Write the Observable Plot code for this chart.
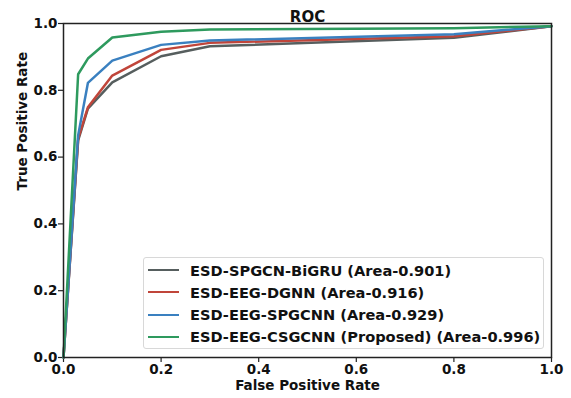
<!DOCTYPE html>
<html>
<head>
<meta charset="utf-8">
<script src="https://cdn.jsdelivr.net/npm/d3@7"></script>
<script src="https://cdn.jsdelivr.net/npm/@observablehq/plot@0.6"></script>
<style>
  html, body { margin: 0; padding: 0; background: #fff; }
  #wrap { position: relative; width: 571px; height: 398px; font-family: "DejaVu Sans", sans-serif; }
  #wrap svg text { font-weight: 700 !important; font-family: "DejaVu Sans", sans-serif !important; }
  .legend { position: absolute; left: 143px; top: 257px; width: 401px; height: 92px; box-sizing: border-box;
            border: 1px solid #d8d8d8; border-radius: 3px; background: rgba(255,255,255,0.85); }
  .item { position: absolute; left: 0; height: 22px; display: flex; align-items: center; }
  .sw { width: 31px; height: 0; border-top: 2.5px solid; margin-left: 4px; margin-right: 11px; }
  .lab { font-weight: bold; font-size: 14.6px; color: #111; white-space: nowrap; }
</style>
</head>
<body>
<div id="wrap"></div>
<script>
const seriesNames = [
  "ESD-SPGCN-BiGRU (Area-0.901)",
  "ESD-EEG-DGNN (Area-0.916)",
  "ESD-EEG-SPGCNN (Area-0.929)",
  "ESD-EEG-CSGCNN (Proposed) (Area-0.996)"
];
const colors = ["#565e5e", "#c0453a", "#3a80c0", "#2e9a5e"];
const fpr = [0, 0.03, 0.05, 0.1, 0.2, 0.3, 0.8, 1.0];
const tprBiGRU  = [0, 0.650, 0.745, 0.824, 0.902, 0.932, 0.957, 0.992];
const tprDGNN   = [0, 0.655, 0.749, 0.844, 0.921, 0.942, 0.962, 0.992];
const tprSPGCNN = [0, 0.665, 0.822, 0.889, 0.936, 0.949, 0.968, 0.992];
const tprCSGCNN = [0, 0.848, 0.895, 0.958, 0.975, 0.982, 0.986, 0.992];
const xTicks = [0, 0.2, 0.4, 0.6, 0.8, 1.0];
const yTicks = [0, 0.2, 0.4, 0.6, 0.8, 1.0];

const allTpr = [tprBiGRU, tprDGNN, tprSPGCNN, tprCSGCNN];
const rows = [];
allTpr.forEach((arr, s) => arr.forEach((v, i) => rows.push({series: seriesNames[s], x: fpr[i], y: v})));

const font = {fontFamily: "DejaVu Sans", fontWeight: "bold", fontSize: "13px", color: "#111", background: "white"};

const chart = Plot.plot({
  width: 571,
  height: 398,
  marginLeft: 63,
  marginRight: 20,
  marginTop: 23,
  marginBottom: 41,
  style: font,
  x: {domain: [0, 1]},
  y: {domain: [0, 1]},
  color: {domain: seriesNames, range: colors},
  marks: [
    Plot.axisX({ticks: xTicks, tickFormat: d3.format(".1f"), tickSize: 5, tickPadding: 2, label: null, stroke: "#222", strokeWidth: 1.2, fontSize: 13.5, fontWeight: "bold", fill: "#111"}),
    Plot.axisY({ticks: yTicks, tickFormat: d3.format(".1f"), tickSize: 5, tickPadding: 1, label: null, stroke: "#222", strokeWidth: 1.2, fontSize: 13.5, fontWeight: "bold", fill: "#111"}),
    Plot.line(rows, {x: "x", y: "y", z: "series", stroke: "series", strokeWidth: 2.5}),
    Plot.frame({stroke: "#222", strokeWidth: 1.5}),
    Plot.text(["ROC"], {frameAnchor: "top", dy: -12, text: d => d, fontSize: 15, fontWeight: "bold", fill: "#111"}),
    Plot.text(["False Positive Rate"], {frameAnchor: "bottom", dy: 32.5, text: d => d, fontSize: 13.5, fontWeight: "bold", fill: "#111"}),
    Plot.text(["True Positive Rate"], {frameAnchor: "left", dx: -41, rotate: -90, text: d => d, fontSize: 13.5, fontWeight: "bold", fill: "#111"})
  ]
});

const wrap = document.getElementById("wrap");
wrap.appendChild(chart);

const leg = document.createElement("div");
leg.className = "legend";
seriesNames.forEach((name, i) => {
  const it = document.createElement("div");
  it.className = "item";
  it.style.top = (1 + i * 22.3) + "px";
  const sw = document.createElement("div");
  sw.className = "sw";
  sw.style.borderTopColor = colors[i];
  const lab = document.createElement("span");
  lab.className = "lab";
  lab.textContent = name;
  it.appendChild(sw);
  it.appendChild(lab);
  leg.appendChild(it);
});
wrap.appendChild(leg);
</script>
</body>
</html>
